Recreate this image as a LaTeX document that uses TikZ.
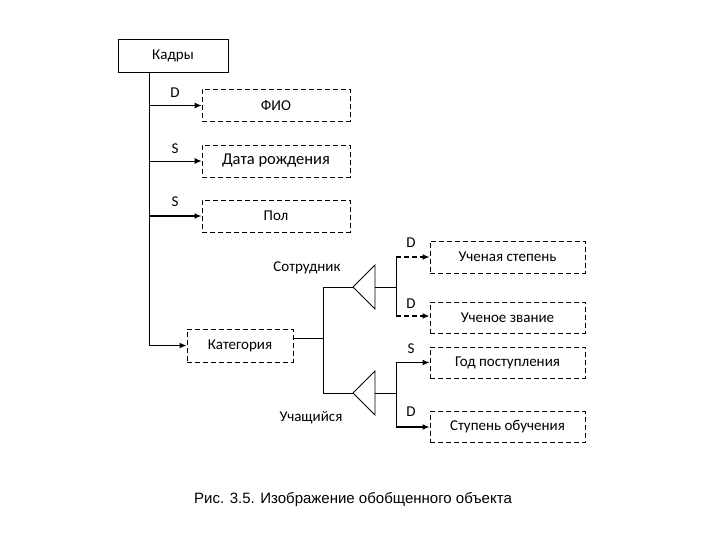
\documentclass[tikz,border=0pt]{standalone}
\usepackage{fontspec}
\setmainfont{Carlito}
\newfontfamily\capfont{Liberation Sans}
\usetikzlibrary{arrows.meta}
\begin{document}
\begin{tikzpicture}[x=1pt,y=-1pt,
  font=\fontsize{15}{18}\selectfont,
  line width=0.9pt,
  box/.style={draw, dash pattern=on 5pt off 3pt, inner sep=0pt, minimum width=148pt, minimum height=32pt},
  rbox/.style={box, minimum width=155pt, minimum height=31pt},
  solidbox/.style={draw, inner sep=0pt, minimum width=110pt, minimum height=33pt},
  arr/.style={-{Latex[length=7pt,width=6pt]}},
  thk/.style={line width=1.8pt},
  lbl/.style={inner sep=0pt},
]
\useasboundingbox (0,0) rectangle (720,540);
% nodes
\node[solidbox] (kadry) at (173,55.5) {Кадры};
\node[box] (fio) at (276,105.5) {ФИО};
\node[box, font=\fontsize{16.5}{19}\selectfont] (data) at (276,161) {Дата рождения};
\node[box] (pol) at (276,216) {Пол};
\node[box, minimum width=106pt, minimum height=33pt] (kat) at (240,345.5) {Категория};
\node[rbox, minimum height=32pt] (ust) at (507.5,257) {Ученая степень};
\node[rbox] (uzv) at (507.5,317.5) {Ученое звание};
\node[rbox] (god) at (507.5,362.5) {Год поступления};
\node[rbox] (stup) at (507.5,427) {Ступень обучения};
% labels
\node[lbl] (l1) at (175,93) {D};
\node[lbl] (l2) at (175,148.5) {S};
\node[lbl] (l3) at (175,201.5) {S};
\node[lbl] (sotr) at (307,268) {Сотрудник};
\node[lbl] (uch) at (311,418) {Учащийся};
\node[lbl] (l4) at (411,243) {D};
\node[lbl] (l5) at (411,304) {D};
\node[lbl] (l6) at (411,348.5) {S};
\node[lbl] (l7) at (411,412) {D};
\node[lbl, font=\capfont\fontsize{15}{18}\selectfont] (cap) at (353,500) {Рис. 3.5. Изображение обобщенного объекта};
% trunk
\coordinate (trunk) at (149,0);
\draw (kadry.south -| trunk) -- (kat.west -| trunk);
\draw[arr] (fio.west -| trunk) -- (fio.west);
\draw[arr] (data.west -| trunk) -- (data.west);
\draw[arr,thk] (pol.west -| trunk) -- (pol.west);
\draw[arr,thk] (kat.west -| trunk) -- (kat.west);
% category split
\coordinate (j1) at (323,338.5);
\coordinate (ja) at (323,287);
\coordinate (jb) at (323,393);
\draw (kat.east |- j1) -- (j1);
\draw (ja) -- (jb);
% triangles
\coordinate (t1) at (353,287);
\coordinate (t2) at (353,393);
\draw (ja) -- (t1);
\draw (jb) -- (t2);
\draw (t1) -- (375,265) -- (375,309) -- cycle;
\draw (t2) -- (375,371) -- (375,415) -- cycle;
\coordinate (b1) at (396,287);
\coordinate (b2) at (396,393);
\draw (375,287) -- (b1);
\draw (375,393) -- (b2);
% upper branch
\draw (ust.west -| b1) -- ([yshift=1.5pt]uzv.west -| b1);
\draw[arr,thk,dash pattern=on 5pt off 3pt] (ust.west -| b1) -- (ust.west);
\draw[arr,thk,dash pattern=on 5pt off 3pt] ([yshift=1.5pt]uzv.west -| b1) -- ([yshift=1.5pt]uzv.west);
% lower branch
\draw (god.west -| b2) -- (stup.west -| b2);
\draw[arr,thk] (god.west -| b2) -- (god.west);
\draw[arr,thk] (stup.west -| b2) -- (stup.west);
\end{tikzpicture}
\end{document}
